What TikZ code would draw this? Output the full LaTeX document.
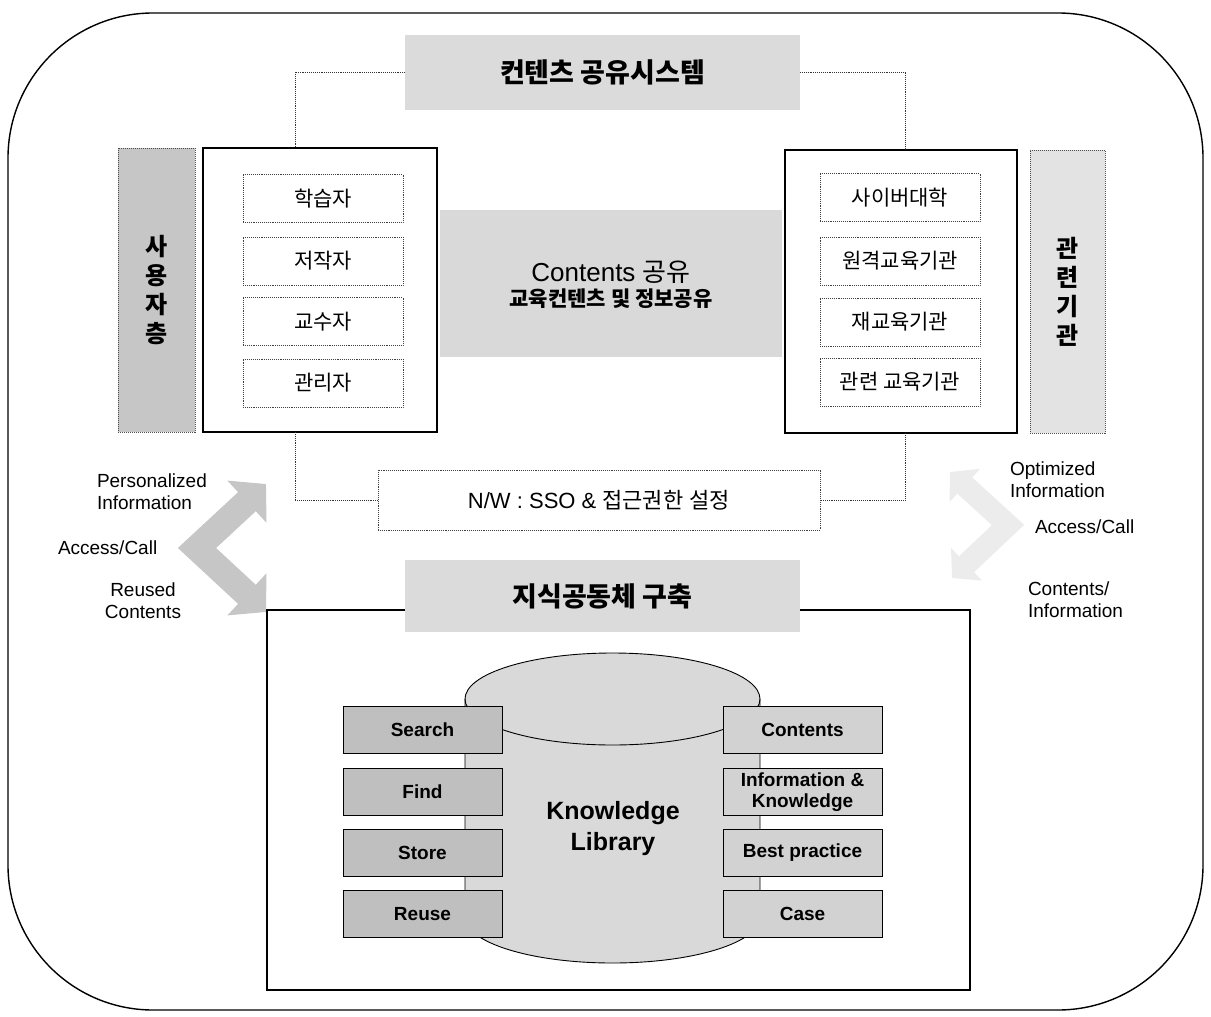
\documentclass[tikz,border=0pt]{standalone}
\usepackage{fontspec}
\setmainfont{Liberation Sans}
\newfontfamily\kr{Noto Sans CJK KR}
\usetikzlibrary{arrows.meta}
\newcommand\fsz[2]{\fontsize{#1}{#2}\selectfont}
\begin{document}
\begin{tikzpicture}[x=1pt,y=-1pt,
  every node/.style={inner sep=0pt, outer sep=0pt},
  band/.style={fill=gray!28, draw=none},
  ibox/.style={draw=black!75, densely dotted, line width=0.9pt, fill=white, minimum width=160, minimum height=48, font=\kr\fsz{21}{24}},
  big/.style={draw=black, line width=1.6pt, fill=white},
  vbar/.style={draw=black!70, densely dotted, line width=1pt, align=center, font=\kr\bfseries\fsz{24}{29}},
  conn/.style={draw=black!80, densely dotted, line width=0.9pt},
  lbox/.style={draw=black, line width=0.8pt, fill=gray!50, minimum width=159, minimum height=47, font=\bfseries\fsz{19}{21}, align=center},
  rbox/.style={draw=black, line width=0.8pt, fill=gray!35, minimum width=159, minimum height=47, font=\bfseries\fsz{19}{21}, align=center},
  lab/.style={font=\fsz{19}{22}, align=left, anchor=west},
]
\useasboundingbox (0,0) rectangle (1211,1017);
% outer frame
\draw[line width=1.4pt, rounded corners=145pt] (8,13) rectangle (1203,1010);

% top title
\node[band, minimum width=395, minimum height=75] (t1) at (602.5,72) {\kr\bfseries\fsz{27}{30}컨텐츠 공유시스템};

% users side
\node[vbar, fill=gray!45, minimum width=77, minimum height=284] (ubar) at (156.5,290) {사\\용\\자\\층};
\node[big, minimum width=234, minimum height=284] (users) at (320,290) {};
\node[ibox] (u1) at (323,198.5) {학습자};
\node[ibox] (u2) at (323,261) {저작자};
\node[ibox] (u3) at (323,321.5) {교수자};
\node[ibox] (u4) at (323,383) {관리자};

% center band
\node[fill=gray!30, minimum width=342, minimum height=147] (cband) at (611,283.5) {};
\node (ctxt1) at (611,272) {\fsz{26}{28}Contents {\kr 공유}};
\node (ctxt2) at (611,299) {\kr\bfseries\fsz{21}{24}교육컨텐츠 및 정보공유};

% institutions side
\node[big, minimum width=232, minimum height=283] (inst) at (901,291.5) {};
\node[ibox] (r1) at (900,197.5) {사이버대학};
\node[ibox] (r2) at (900,261) {원격교육기관};
\node[ibox] (r3) at (900,322) {재교육기관};
\node[ibox] (r4) at (900,382) {관련 교육기관};
\node[vbar, fill=gray!22, minimum width=75, minimum height=283] (rbar) at (1067.5,291.5) {관\\련\\기\\관};

% network box
\node[draw=black!75, densely dotted, line width=0.9pt, minimum width=442, minimum height=60, font=\fsz{22}{24}] (nw) at (599,500) {N/W : SSO \& {\kr 접근권한} {\kr 설정}};

% connectors
\coordinate (cl) at (295,0);
\coordinate (cr) at (905,0);
\draw[conn] (t1.west) -| (cl |- users.north);
\draw[conn] (t1.east) -| (cr |- inst.north);
\draw[conn] (cl |- users.south) |- (nw.west);
\draw[conn] (cr |- inst.south) |- (nw.east);

% lower section
\node[big, line width=1.8pt, fill=none, minimum width=703, minimum height=380] (lib) at (618.5,800) {};
\node[band, minimum width=395, minimum height=72] (t2) at (602.5,596) {\kr\bfseries\fsz{27}{30}지식공동체 구축};

% cylinder
\draw[fill=gray!30, line width=0.9pt] (465,699) -- (465,917)
  arc[start angle=180, end angle=360, x radius=147.5pt, y radius=46pt] -- (760,699)
  arc[start angle=0, end angle=180, x radius=147.5pt, y radius=46pt] -- cycle;
\draw[line width=0.9pt] (760,699) arc[start angle=0, end angle=-180, x radius=147.5pt, y radius=46pt];
\node[font=\bfseries\fsz{25}{31}, align=center] (kl) at (613,829) {Knowledge\\Library};

\node[lbox] (search) at (422.5,730) {Search};
\node[lbox] (find) at (422.5,792) {Find};
\node[lbox] (store) at (422.5,853) {Store};
\node[lbox] (reuse) at (422.5,914) {Reuse};
\node[rbox] (contents) at (802.5,730) {Contents};
\node[rbox] (infok) at (802.5,792) {Information \&\\Knowledge};
\node[rbox] (best) at (802.5,853) {Best practice};
\node[rbox] (case) at (802.5,914) {Case};

% chevron arrows
\coordinate (pa) at (266,484);
\coordinate (pv) at (197,548);
\coordinate (pb) at (266,612);
\draw[gray!45, line width=26pt, {Triangle[length=26pt,width=56pt]}-{Triangle[length=26pt,width=56pt]}] (pa) -- (pv) -- (pb);
\coordinate (qa) at (950,472);
\coordinate (qv) at (1008,525);
\coordinate (qb) at (952,578);
\draw[gray!15, line width=22pt, {Triangle[length=20pt,width=44pt]}-{Triangle[length=20pt,width=44pt]}] (qa) -- (qv) -- (qb);

% labels
\node[lab] (pinfo) at (97,492) {Personalized\\Information};
\node[lab] (acc1) at (58,548) {Access/Call};
\node[lab, align=center, anchor=center] (reused) at (143,601) {Reused\\Contents};
\node[lab] (oinfo) at (1010,480) {Optimized\\Information};
\node[lab] (acc2) at (1035,527) {Access/Call};
\node[lab] (cinfo) at (1028,600) {Contents/\\Information};
\end{tikzpicture}
\end{document}
